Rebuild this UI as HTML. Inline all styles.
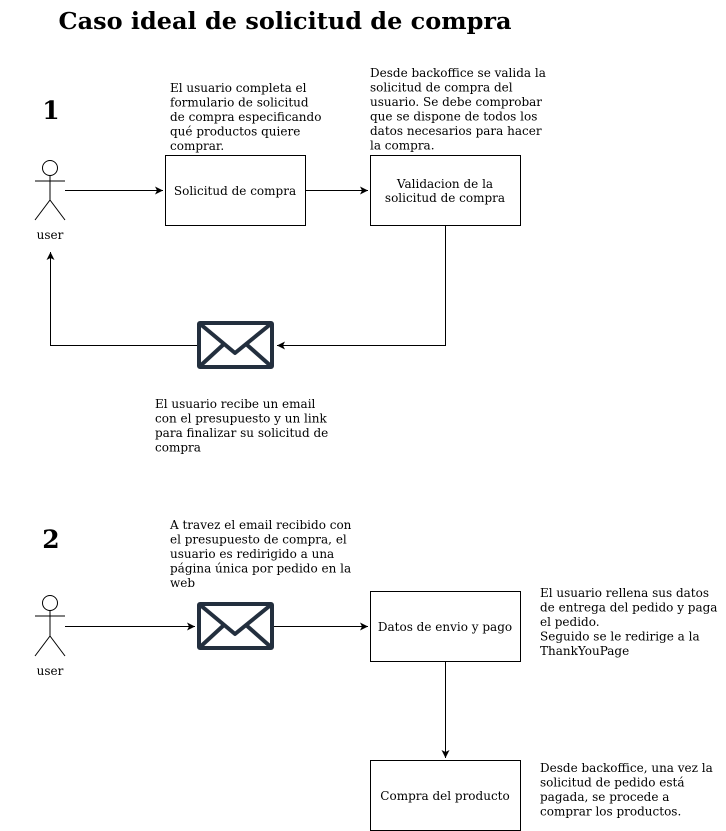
<!DOCTYPE html>
<html><head><meta charset="utf-8"><style>
html,body{margin:0;padding:0;background:#fff;}
svg{display:block;}
text{font-family:"DejaVu Serif","Liberation Serif",serif;font-size:12px;fill:#000;}
</style></head><body>
<svg width="726" height="831" viewBox="0 0 726 831" xmlns="http://www.w3.org/2000/svg">
<defs>
<marker id="a" markerWidth="10" markerHeight="8" refX="8" refY="4" orient="auto" markerUnits="userSpaceOnUse">
<path d="M0,0 L8,4 L0,8 L2,4 Z" fill="#000"/>
</marker>
</defs>
<text x="285" y="29" text-anchor="middle" style="font-size:23px;font-weight:bold" textLength="453" lengthAdjust="spacingAndGlyphs">Caso ideal de solicitud de compra</text>
<text x="51" y="119" text-anchor="middle" style="font-size:25px;font-weight:bold">1</text>
<text x="51" y="548" text-anchor="middle" style="font-size:25px;font-weight:bold">2</text>

<g stroke="#000" fill="#fff" stroke-width="1">
<circle cx="50" cy="168" r="7.5"/>
<line x1="50" y1="175.5" x2="50" y2="200"/>
<line x1="35" y1="181" x2="65" y2="181"/>
<line x1="50" y1="200" x2="35" y2="220"/>
<line x1="50" y1="200" x2="65" y2="220"/>
<circle cx="50" cy="603" r="7.5"/>
<line x1="50" y1="610.5" x2="50" y2="636"/>
<line x1="35" y1="616" x2="65" y2="616"/>
<line x1="50" y1="636" x2="35" y2="656"/>
<line x1="50" y1="636" x2="65" y2="656"/>
</g>
<text x="50" y="239" text-anchor="middle">user</text>
<text x="50" y="675" text-anchor="middle">user</text>

<g stroke="#000" fill="#fff" stroke-width="1">
<rect x="165.5" y="155.5" width="140" height="70"/>
<rect x="370.5" y="155.5" width="150" height="70"/>
<rect x="370.5" y="591.5" width="150" height="70"/>
<rect x="370.5" y="760.5" width="150" height="70"/>
</g>
<text x="235" y="195" text-anchor="middle">Solicitud de compra</text>
<text x="445" y="188" text-anchor="middle">Validacion de la</text>
<text x="445" y="202" text-anchor="middle">solicitud de compra</text>
<text x="445" y="631" text-anchor="middle">Datos de envio y pago</text>
<text x="445" y="800" text-anchor="middle">Compra del producto</text>

<g stroke="#000" stroke-width="1" fill="none">
<line x1="65" y1="190.5" x2="163" y2="190.5" marker-end="url(#a)"/>
<line x1="305" y1="190.5" x2="368" y2="190.5" marker-end="url(#a)"/>
<polyline points="445.5,225 445.5,345.5 277,345.5" marker-end="url(#a)"/>
<polyline points="197,345.5 50.5,345.5 50.5,252" marker-end="url(#a)"/>
<line x1="65" y1="626.5" x2="195" y2="626.5" marker-end="url(#a)"/>
<line x1="273" y1="626.5" x2="368" y2="626.5" marker-end="url(#a)"/>
<line x1="445.5" y1="661" x2="445.5" y2="758" marker-end="url(#a)"/>
</g>

<g stroke="#232F3E" stroke-width="4" fill="#fff" stroke-linejoin="round">
<rect x="199" y="323" width="73" height="44" rx="1"/>
<polyline points="199,323 235,353 272,323" fill="none"/>
<line x1="199" y1="367" x2="224" y2="344"/>
<line x1="272" y1="367" x2="246" y2="344"/>
<rect x="199" y="604" width="73" height="44" rx="1"/>
<polyline points="199,604 235,634 272,604" fill="none"/>
<line x1="199" y1="648" x2="224" y2="625"/>
<line x1="272" y1="648" x2="246" y2="625"/>
</g>

<text x="170" y="92">El usuario completa el</text>
<text x="170" y="106.5">formulario de solicitud</text>
<text x="170" y="121">de compra especificando</text>
<text x="170" y="135.5">qué productos quiere</text>
<text x="170" y="150">comprar.</text>

<text x="370" y="77">Desde backoffice se valida la</text>
<text x="370" y="91.5">solicitud de compra del</text>
<text x="370" y="106">usuario. Se debe comprobar</text>
<text x="370" y="120.5">que se dispone de todos los</text>
<text x="370" y="135">datos necesarios para hacer</text>
<text x="370" y="149.5">la compra.</text>

<text x="155" y="408">El usuario recibe un email</text>
<text x="155" y="422.5">con el presupuesto y un link</text>
<text x="155" y="437">para finalizar su solicitud de</text>
<text x="155" y="451.5">compra</text>

<text x="170" y="529">A travez el email recibido con</text>
<text x="170" y="543.5">el presupuesto de compra, el</text>
<text x="170" y="558">usuario es redirigido a una</text>
<text x="170" y="572.5">página única por pedido en la</text>
<text x="170" y="587">web</text>

<text x="540" y="597">El usuario rellena sus datos</text>
<text x="540" y="611.5">de entrega del pedido y paga</text>
<text x="540" y="626">el pedido.</text>
<text x="540" y="640.5">Seguido se le redirige a la</text>
<text x="540" y="655">ThankYouPage</text>

<text x="540" y="772">Desde backoffice, una vez la</text>
<text x="540" y="786.5">solicitud de pedido está</text>
<text x="540" y="801">pagada, se procede a</text>
<text x="540" y="815.5">comprar los productos.</text>
</svg>
</body></html>
